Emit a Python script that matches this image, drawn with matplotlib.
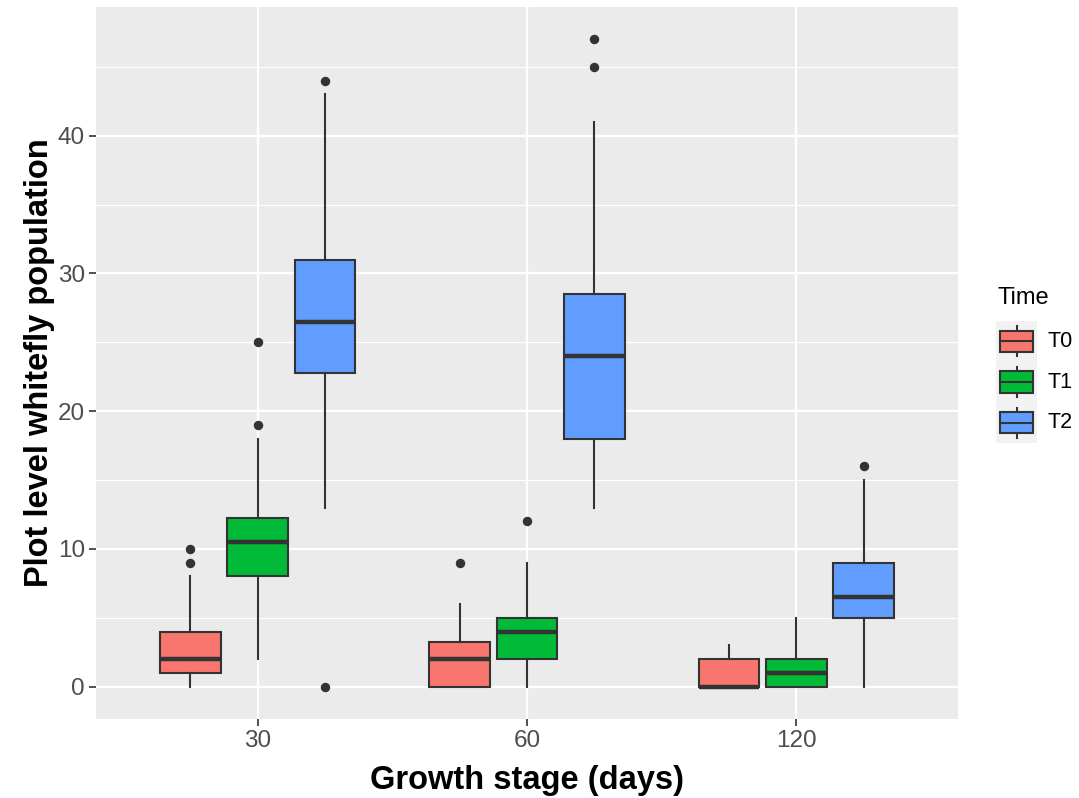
import matplotlib
matplotlib.use("Agg")
import matplotlib.pyplot as plt
from matplotlib.patches import Rectangle

plt.rcParams['font.family'] = ['Liberation Sans', 'DejaVu Sans']

# ---- data ----
stages = ["30", "60", "120"]
times = ["T0", "T1", "T2"]
colors = ["#F8766D", "#00BA38", "#619CFF"]

whislo = {"T0": [0, 0, 0],      "T1": [2, 0, 0],   "T2": [13, 13, 0]}
q1     = {"T0": [1, 0, 0],      "T1": [8, 2, 0],   "T2": [22.75, 18, 5]}
med    = {"T0": [2, 2, 0],      "T1": [10.5, 4, 1], "T2": [26.5, 24, 6.5]}
q3     = {"T0": [4, 3.25, 2],   "T1": [12.25, 5, 2], "T2": [31, 28.5, 9]}
whishi = {"T0": [8, 6, 3],      "T1": [18, 9, 5],  "T2": [43, 41, 15]}
fliers = {"T0": [[9, 10], [9], []],
          "T1": [[19, 25], [12], []],
          "T2": [[0, 44], [45, 47], [16]]}

W, H = 1079, 798
fig = plt.figure(figsize=(W / 100, H / 100), dpi=100)
fig.patch.set_facecolor("white")

left, right, top, bottom = 96, 958, 7, 719
ax = fig.add_axes([left / W, 1 - bottom / H, (right - left) / W, (bottom - top) / H])
ax.set_facecolor("#EBEBEB")
for s in ax.spines.values():
    s.set_visible(False)

edge = "#333333"
dodge = 0.25
bw = 0.225
for j, t in enumerate(times):
    stats = []
    pos = []
    for i in range(len(stages)):
        stats.append(dict(whislo=whislo[t][i], q1=q1[t][i], med=med[t][i],
                          q3=q3[t][i], whishi=whishi[t][i], fliers=fliers[t][i]))
        pos.append(i + 1 + (j - 1) * dodge)
    ax.bxp(stats, positions=pos, widths=bw, patch_artist=True, showcaps=False,
           boxprops=dict(facecolor=colors[j], edgecolor=edge, linewidth=1.5),
           whiskerprops=dict(color=edge, linewidth=1.5),
           medianprops=dict(color=edge, linewidth=3.2, solid_capstyle='butt'),
           flierprops=dict(marker='o', markerfacecolor=edge, markeredgecolor=edge,
                           markersize=5.8, linestyle='none'),
           manage_ticks=False, zorder=3)

ax.set_xlim(0.4, 3.6)
ax.set_ylim(-2.35, 49.35)
ax.set_xticks([1, 2, 3])
ax.set_xticklabels(stages)
ax.set_yticks([0, 10, 20, 30, 40])
ax.set_yticks([5, 15, 25, 35, 45], minor=True)
ax.grid(True, which='major', color='white', linewidth=1.6, zorder=0)
ax.grid(True, which='minor', axis='y', color='white', linewidth=0.8, zorder=0)
ax.set_axisbelow(True)
ax.tick_params(axis='both', which='major', colors='#333333', length=5, width=1.2,
               labelsize=17.5, labelcolor='#4D4D4D', pad=3)
ax.tick_params(axis='both', which='minor', length=0)

ax.set_xlabel("Growth stage (days)", fontsize=23.5, fontweight='bold', labelpad=9)
ax.set_ylabel("Plot level whitefly population", fontsize=23.5, fontweight='bold', labelpad=2)

# ---- legend ----
fig.text(997 / W, 1 - 298 / H, "Time", fontsize=17, ha='left', va='center', color='black')
lx0, lx1, ly0, ly1 = 996, 1037, 321, 443
lax = fig.add_axes([lx0 / W, 1 - ly1 / H, (lx1 - lx0) / W, (ly1 - ly0) / H])
lax.set_xlim(0, 1)
lax.set_ylim(3, 0)
lax.set_facecolor("#F2F2F2")
lax.set_xticks([]); lax.set_yticks([])
for s in lax.spines.values():
    s.set_visible(False)
for j, t in enumerate(times):
    c = j + 0.5
    lax.plot([0.5, 0.5], [c - 0.37, c + 0.37], color=edge, lw=1.5, zorder=1)
    lax.add_patch(Rectangle((0.1, c - 0.26), 0.8, 0.52, facecolor=colors[j],
                            edgecolor=edge, lw=1.5, zorder=2))
    lax.plot([0.1, 0.9], [c, c], color=edge, lw=1.5, zorder=3)
    fig.text(1047 / W, 1 - (ly0 + (ly1 - ly0) * (c / 3)) / H, t, fontsize=15.5,
             ha='left', va='center', color='black')

fig.savefig("out.png", dpi=100)
